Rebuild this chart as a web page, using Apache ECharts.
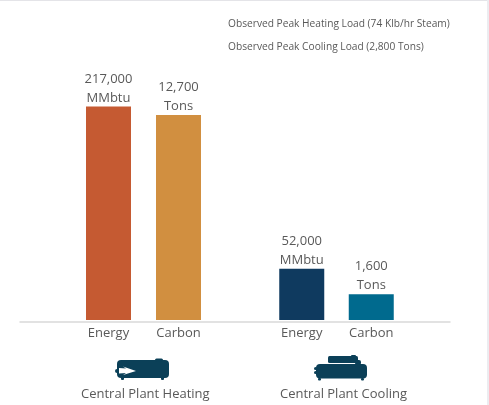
<!DOCTYPE html>
<html><head><meta charset="utf-8">
<style>html,body{margin:0;padding:0;background:#fff}#c{width:489px;height:405px}
#t{position:absolute;left:0;top:0;width:489px;height:1px;background:#e4e4e8}#r{position:absolute;left:487px;top:0;width:2px;height:405px;background:#ececf0}</style>
<script src="https://cdn.jsdelivr.net/npm/echarts@6/dist/echarts.min.js"></script></head>
<body><div id="c"></div><div id="t"></div><div id="r"></div>
<script>
const categories = ['Energy', 'Carbon'];
const groupNames = ['Central Plant Heating', 'Central Plant Cooling'];
const energyValues = [217000, 52000];      // MMbtu: heating, cooling
const carbonValues = [12700, 1600];        // Tons: heating, cooling
const energyUnit = 'MMbtu', carbonUnit = 'Tons';
const notes = ['Observed Peak Heating Load (74 Klb/hr Steam)', 'Observed Peak Cooling Load (2,800 Tons)'];
const colors = [['#C55A32', '#D18F40'], ['#0F3A5F', '#006A8E']];

const FONT = '"Open Sans", sans-serif', TXT = '#595959', ICON = '#0B4058';
const fmt = v => v.toLocaleString('en-US');
const grids = [
  {left: 73.5, width: 140, top: 20, height: 300},
  {left: 267, width: 139, top: 20, height: 300},
  {left: 20, width: 430, top: 20, height: 301.5}
];
const xAxis = [0, 1].map(i => ({
  type: 'category', gridIndex: i, data: categories,
  axisLine: {show: false}, axisTick: {show: false},
  axisLabel: {color: TXT, fontFamily: FONT, fontSize: 13, margin: 7}
}));
xAxis.push({type: 'category', gridIndex: 2, data: [''], axisLine: {lineStyle: {color: '#D9D9D9', width: 1.5}},
  axisTick: {show: false}, axisLabel: {show: false}});
const yAxis = [];
[0, 1].forEach(i => {
  yAxis.push({type: 'value', gridIndex: i, min: 0, max: 305000, show: false});
  yAxis.push({type: 'value', gridIndex: i, min: 0, max: 18585, show: false});
});
yAxis.push({type: 'value', gridIndex: 2, show: false});
const series = [];
const mk = (g, c, val, unit, yIdx) => {
  const d = [null, null];
  d[c] = {value: val, itemStyle: {color: colors[g][c]}};
  series.push({type: 'bar', xAxisIndex: g, yAxisIndex: yIdx, data: d, barWidth: 45, barGap: '-100%', silent: true,
    label: {show: true, position: 'top', distance: -1, color: TXT, fontFamily: FONT, fontSize: 13, lineHeight: 19,
      formatter: p => fmt(p.value) + '\n' + unit}});
};
[0, 1].forEach(g => {
  mk(g, 0, energyValues[g], energyUnit, g * 2);
  mk(g, 1, carbonValues[g], carbonUnit, g * 2 + 1);
});
const rr = (x, y, w, h, r, fill) => ({type: 'rect', shape: {x, y, width: w, height: h, r}, style: {fill: fill || ICON}, silent: true});
const graphic = [
  {type: 'text', left: 228, top: 19, style: {text: notes[0], font: '10.2px ' + FONT, fill: TXT}},
  {type: 'text', left: 228, top: 42.5, style: {text: notes[1], font: '10.2px ' + FONT, fill: TXT}},
  {type: 'text', left: 81, top: 388, style: {text: groupNames[0], font: '13px ' + FONT, fill: TXT}},
  {type: 'text', left: 280, top: 388, style: {text: groupNames[1], font: '13px ' + FONT, fill: TXT}},
  // heating icon
  rr(117, 360, 52, 18, 4), rr(155, 358.5, 8, 3, 1.5), rr(115, 369, 4, 4, 2), rr(121, 377, 3, 3, 1), rr(161, 377, 3, 3, 1),
  {type: 'polygon', shape: {points: [[119, 368], [126, 368.5], [123, 366.5], [136, 371], [123, 375], [126, 373], [119, 373.5]]}, style: {fill: '#fff'}, silent: true},
  // cooling icon
  rr(316, 364, 51, 14.5, 4), rr(328, 356, 30, 7, 1.5), rr(351, 355, 5, 2, 1), rr(355, 360, 6, 5, 2),
  rr(314, 367, 3, 3, 1.5), rr(314, 371, 3, 3, 1.5), rr(318, 378, 3, 2.5, 1), rr(361, 378, 3, 2.5, 1)
];
const chart = echarts.init(document.getElementById('c'), null, {renderer: 'canvas'});
chart.setOption({animation: false, backgroundColor: '#fff', grid: grids, xAxis, yAxis, series, graphic});
</script></body></html>
